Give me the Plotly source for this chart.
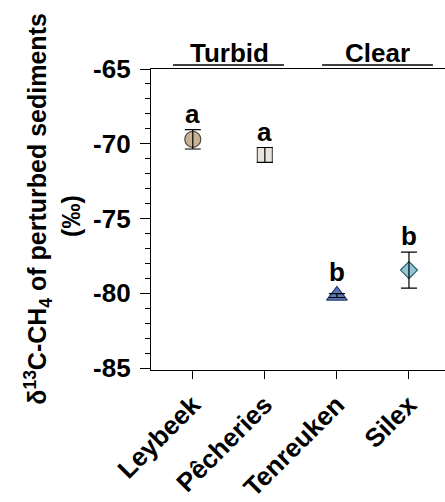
import plotly.graph_objects as go

sites = ["Leybeek", "Pêcheries", "Tenreuken", "Silex"]
means = [-69.7, -70.75, -80.15, -78.45]
errs = [0.65, 0.5, 0.13, 1.2]
letters = ["a", "a", "b", "b"]
groups = ["Turbid", "Clear"]
ytitle = ["δ<sup>13</sup>C-CH<sub>4</sub> of perturbed sediments", "(‰)"]

fills = ["#C8B291", "#E8E4DD", "#5A79B6", "#93C6D6"]
lines = ["#4a4a4a", "#555555", "#2a3d6e", "#2c5a68"]
symbols = ["circle", "square", "triangle-up", "diamond"]
sizes = [16, 15, 18, 13]

FONT = "Liberation Sans"
x = list(range(len(sites)))

fig = go.Figure()
for i in x:
    fig.add_trace(go.Scatter(
        x=[i], y=[means[i]], mode="markers",
        marker=dict(symbol=symbols[i], size=sizes[i], color=fills[i],
                    line=dict(color=lines[i], width=1.2)),
        showlegend=False, cliponaxis=False))
# error bars drawn over the markers
fig.add_trace(go.Scatter(
    x=x, y=means, mode="markers", marker=dict(opacity=0, size=1),
    error_y=dict(type="data", array=errs, color="black", thickness=1.2, width=8),
    showlegend=False, cliponaxis=False))

for i in x:
    top = max(means[i] + errs[i], means[i] + 0.5)
    fig.add_annotation(x=i, y=top, text="<b>%s</b>" % letters[i], showarrow=False,
                       xanchor="center", yanchor="middle", yshift=16,
                       font=dict(family=FONT, size=26, color="black"))

# group headers
hdr_x = [0.266, 0.769]
line_x = [(0.075, 0.452), (0.582, 0.959)]
for g, hx, (x0, x1) in zip(groups, hdr_x, line_x):
    fig.add_annotation(xref="paper", yref="paper", x=hx, y=1.053, text="<b>%s</b>" % g,
                       showarrow=False, xanchor="center", yanchor="middle",
                       font=dict(family=FONT, size=26, color="black"))
    fig.add_shape(type="line", xref="paper", yref="paper", x0=x0, x1=x1,
                  y0=1.013, y1=1.013, line=dict(color="black", width=1.5))

# y-axis title as two rotated lines
title_x = [-0.385, -0.272]
title_y = [0.535, 0.512]
for t, tx, ty in zip(ytitle, title_x, title_y):
    fig.add_annotation(xref="paper", yref="paper", x=tx, y=ty, text="<b>%s</b>" % t,
                       textangle=-90, showarrow=False, xanchor="center", yanchor="middle",
                       font=dict(family=FONT, size=25, color="black"))

fig.update_layout(
    width=445, height=502,
    margin=dict(l=151, r=0, t=69, b=130),
    plot_bgcolor="white", paper_bgcolor="white",
    font=dict(family=FONT, color="black"),
)
fig.update_xaxes(
    range=[-0.58, 3.5], tickvals=x, ticktext=["<b>%s</b>" % s for s in sites],
    tickangle=-45, ticks="outside", ticklen=8, tickwidth=1.2, tickcolor="black",
    showline=True, linecolor="black", linewidth=1.2, mirror=True,
    showgrid=False, zeroline=False, tickfont=dict(family=FONT, size=26),
)
fig.update_yaxes(
    range=[-85.13, -65], tickvals=[-85, -80, -75, -70, -65],
    ticktext=["<b>%d</b>" % v for v in [-85, -80, -75, -70, -65]],
    ticks="outside", ticklen=10, tickwidth=1.2, tickcolor="black",
    minor=dict(dtick=1, ticks="outside", ticklen=5, tickwidth=1.2, tickcolor="black"),
    showline=True, linecolor="black", linewidth=1.2, ticklabelstandoff=4,
    showgrid=False, zeroline=False, tickfont=dict(family=FONT, size=26),
)

fig.write_html("out.html")
